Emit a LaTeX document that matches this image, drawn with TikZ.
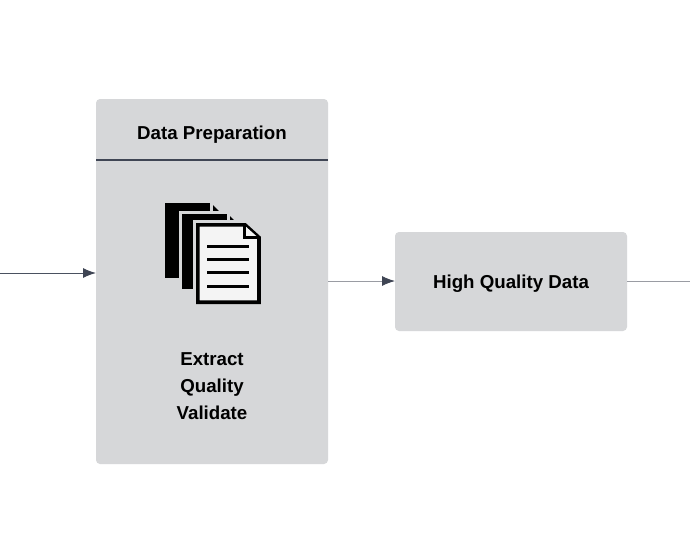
\documentclass[tikz,border=0pt]{standalone}
\usepackage{fontspec}
\setmainfont{Liberation Sans}
\usetikzlibrary{arrows.meta}
\definecolor{boxgray}{HTML}{D6D7D9}
\definecolor{rulecol}{HTML}{3F4554}
\definecolor{linedark}{HTML}{4A5160}
\definecolor{linelight}{HTML}{9A9CA3}
\definecolor{paper}{HTML}{F4F4F4}
\tikzset{
  x=1pt,y=-1pt,
  panel/.style={fill=boxgray,draw=none,rounded corners=4pt,minimum width=232pt,inner sep=0pt,outer sep=0pt},
  label/.style={font=\bfseries\fontsize{18.7}{22}\selectfont,text=black,inner sep=0pt,anchor=base},
  tip/.style={-{Latex[length=13pt,width=10pt,color=rulecol]}},
  darkline/.style={draw=linedark,line width=1pt},
  lightline/.style={draw=linelight,line width=0.9pt},
  docline/.style={draw=black,line width=3pt},
}
\begin{document}
\begin{tikzpicture}
\useasboundingbox (0,0) rectangle (690,547);
\fill[white] (0,0) rectangle (690,547);
\node[panel,minimum height=365pt] (prep) at (212,281.5) {};
\node[panel,minimum height=99pt] (hq) at (511,281.5) {};
\coordinate (inL) at (0,273);
\coordinate (prepIn) at (96,273);
\coordinate (prepOut) at (328,281);
\coordinate (hqIn) at (395,281);
\coordinate (hqOut) at (627,281);
\coordinate (outR) at (690,281);
\coordinate (ruleL) at (96,160);
\coordinate (ruleR) at (328,160);
\draw[rulecol,line width=2.2pt] (ruleL) -- (ruleR);
\draw[darkline,tip] (inL) -- (prepIn);
\draw[lightline,tip] (prepOut) -- (hqIn);
\draw[lightline] (hqOut) -- (outR);
\node[label] (title) at (212,139) {Data Preparation};
\node[label] (t1) at (212,365.5) {Extract};
\node[label] (t2) at (212,392.5) {Quality};
\node[label] (t3) at (212,419) {Validate};
\node[label] (hqt) at (511,288) {High Quality Data};
% icon: back sheet
\fill[black] (165,203) -- (210,203) -- (210,278) -- (165,278) -- cycle;
\fill[black] (213,205) -- (219,211) -- (213,211) -- cycle;
% icon: middle sheet
\fill[boxgray] (179,211) rectangle (230,292);
\fill[black] (182,214) -- (227,214) -- (227,289) -- (182,289) -- cycle;
\fill[black] (230,216) -- (236,222) -- (230,222) -- cycle;
% icon: front sheet
\fill[boxgray] (193,220) rectangle (198,307);
\fill[boxgray] (193,220) rectangle (246,223);
\draw[draw=black,fill=paper,line width=3.6pt,miter limit=10] (197.8,224.8) -- (245,224.8) -- (259,237.5) -- (259,302.2) -- (197.8,302.2) -- cycle;
\draw[draw=black,fill=paper,line width=3pt,line join=miter] (244,225) -- (244,237.5) -- (258,237.5);
\draw[docline] (207,246) -- (249,246);
\draw[docline] (207,259) -- (249,259);
\draw[docline] (207,272.5) -- (249,272.5);
\draw[docline] (207,286) -- (249,286);
\end{tikzpicture}
\end{document}
